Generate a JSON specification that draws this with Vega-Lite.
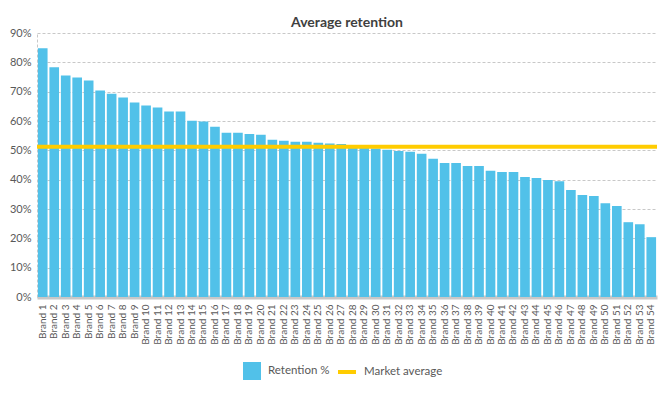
{
  "$schema": "https://vega.github.io/schema/vega-lite/v6.json",
  "width": 620,
  "height": 264,
  "autosize": {"type": "none"},
  "padding": {"left": 37, "top": 33, "right": 15, "bottom": 99},
  "background": "white",
  "title": {"text": "Average retention", "fontSize": 14, "font": "Lato", "fontWeight": "bold", "color": "#404040", "anchor": "middle", "offset": -3},
  "datasets": {
    "brands": [
      {"brand": "Brand 1", "value": 84.8, "series": "Retention %"},
      {"brand": "Brand 2", "value": 78.3, "series": "Retention %"},
      {"brand": "Brand 3", "value": 75.5, "series": "Retention %"},
      {"brand": "Brand 4", "value": 74.8, "series": "Retention %"},
      {"brand": "Brand 5", "value": 73.8, "series": "Retention %"},
      {"brand": "Brand 6", "value": 70.4, "series": "Retention %"},
      {"brand": "Brand 7", "value": 69.3, "series": "Retention %"},
      {"brand": "Brand 8", "value": 68.0, "series": "Retention %"},
      {"brand": "Brand 9", "value": 66.3, "series": "Retention %"},
      {"brand": "Brand 10", "value": 65.3, "series": "Retention %"},
      {"brand": "Brand 11", "value": 64.6, "series": "Retention %"},
      {"brand": "Brand 12", "value": 63.2, "series": "Retention %"},
      {"brand": "Brand 13", "value": 63.2, "series": "Retention %"},
      {"brand": "Brand 14", "value": 60.1, "series": "Retention %"},
      {"brand": "Brand 15", "value": 59.8, "series": "Retention %"},
      {"brand": "Brand 16", "value": 58.0, "series": "Retention %"},
      {"brand": "Brand 17", "value": 56.0, "series": "Retention %"},
      {"brand": "Brand 18", "value": 56.0, "series": "Retention %"},
      {"brand": "Brand 19", "value": 55.6, "series": "Retention %"},
      {"brand": "Brand 20", "value": 55.3, "series": "Retention %"},
      {"brand": "Brand 21", "value": 53.6, "series": "Retention %"},
      {"brand": "Brand 22", "value": 53.3, "series": "Retention %"},
      {"brand": "Brand 23", "value": 52.9, "series": "Retention %"},
      {"brand": "Brand 24", "value": 52.9, "series": "Retention %"},
      {"brand": "Brand 25", "value": 52.6, "series": "Retention %"},
      {"brand": "Brand 26", "value": 52.3, "series": "Retention %"},
      {"brand": "Brand 27", "value": 52.2, "series": "Retention %"},
      {"brand": "Brand 28", "value": 51.0, "series": "Retention %"},
      {"brand": "Brand 29", "value": 50.8, "series": "Retention %"},
      {"brand": "Brand 30", "value": 50.6, "series": "Retention %"},
      {"brand": "Brand 31", "value": 50.2, "series": "Retention %"},
      {"brand": "Brand 32", "value": 49.8, "series": "Retention %"},
      {"brand": "Brand 33", "value": 49.5, "series": "Retention %"},
      {"brand": "Brand 34", "value": 48.8, "series": "Retention %"},
      {"brand": "Brand 35", "value": 47.1, "series": "Retention %"},
      {"brand": "Brand 36", "value": 45.7, "series": "Retention %"},
      {"brand": "Brand 37", "value": 45.7, "series": "Retention %"},
      {"brand": "Brand 38", "value": 44.7, "series": "Retention %"},
      {"brand": "Brand 39", "value": 44.7, "series": "Retention %"},
      {"brand": "Brand 40", "value": 43.0, "series": "Retention %"},
      {"brand": "Brand 41", "value": 42.6, "series": "Retention %"},
      {"brand": "Brand 42", "value": 42.6, "series": "Retention %"},
      {"brand": "Brand 43", "value": 40.9, "series": "Retention %"},
      {"brand": "Brand 44", "value": 40.6, "series": "Retention %"},
      {"brand": "Brand 45", "value": 39.9, "series": "Retention %"},
      {"brand": "Brand 46", "value": 39.5, "series": "Retention %"},
      {"brand": "Brand 47", "value": 36.5, "series": "Retention %"},
      {"brand": "Brand 48", "value": 34.8, "series": "Retention %"},
      {"brand": "Brand 49", "value": 34.4, "series": "Retention %"},
      {"brand": "Brand 50", "value": 32.0, "series": "Retention %"},
      {"brand": "Brand 51", "value": 31.0, "series": "Retention %"},
      {"brand": "Brand 52", "value": 25.5, "series": "Retention %"},
      {"brand": "Brand 53", "value": 24.8, "series": "Retention %"},
      {"brand": "Brand 54", "value": 20.4, "series": "Retention %"}
    ],
    "avg": [
      {"series": "Market average", "value": 51.2}
    ]
  },
  "encoding": {
    "y": {
      "field": "value", "type": "quantitative",
      "scale": {"domain": [0, 90], "nice": false},
      "axis": {"title": null, "values": [0, 10, 20, 30, 40, 50, 60, 70, 80, 90], "tickCount": 10, "labelOverlap": false, "labelExpr": "datum.value + '%'", "labelFontSize": 11, "labelFont": "Lato", "labelColor": "#595959", "labelPadding": 6, "ticks": false, "domainColor": "#C8C8C8", "domainDash": [3, 2], "grid": true, "gridColor": "#C8C8C8", "gridDash": [3, 2], "gridWidth": 1}
    }
  },
  "layer": [
    {
      "data": {"name": "brands"},
      "mark": {"type": "bar"},
      "encoding": {
        "x": {
          "field": "brand", "type": "nominal", "sort": null,
          "scale": {"paddingInner": 0.16, "paddingOuter": 0.08},
          "axis": {"title": null, "labelAngle": 270, "labelFontSize": 10, "labelFont": "Lato", "labelColor": "#595959", "labelPadding": 7, "ticks": false, "domainColor": "#C8C8C8", "domainWidth": 4, "labelOverlap": false, "grid": false}
        },
        "fill": {
          "field": "series", "type": "nominal",
          "scale": {"domain": ["Retention %"], "range": ["#51C1E9"]},
          "legend": {"orient": "none", "legendX": 205, "legendY": 328, "title": null, "symbolType": "square", "symbolSize": 324, "symbolOpacity": 1, "labelFontSize": 11.5, "labelFont": "Lato", "labelColor": "#595959", "padding": 0, "labelOffset": 6}
        }
      }
    },
    {
      "data": {"name": "avg"},
      "mark": {"type": "rule", "strokeWidth": 4},
      "encoding": {
        "stroke": {
          "field": "series", "type": "nominal",
          "scale": {"domain": ["Market average"], "range": ["#FFCC00"]},
          "legend": {"orient": "none", "legendX": 299, "legendY": 328, "title": null, "symbolType": "stroke", "symbolSize": 324, "symbolStrokeWidth": 4, "labelFontSize": 11.5, "labelFont": "Lato", "labelColor": "#595959", "padding": 0, "labelOffset": 6}
        }
      }
    }
  ],
  "config": {
    "view": {"stroke": null}
  }
}
